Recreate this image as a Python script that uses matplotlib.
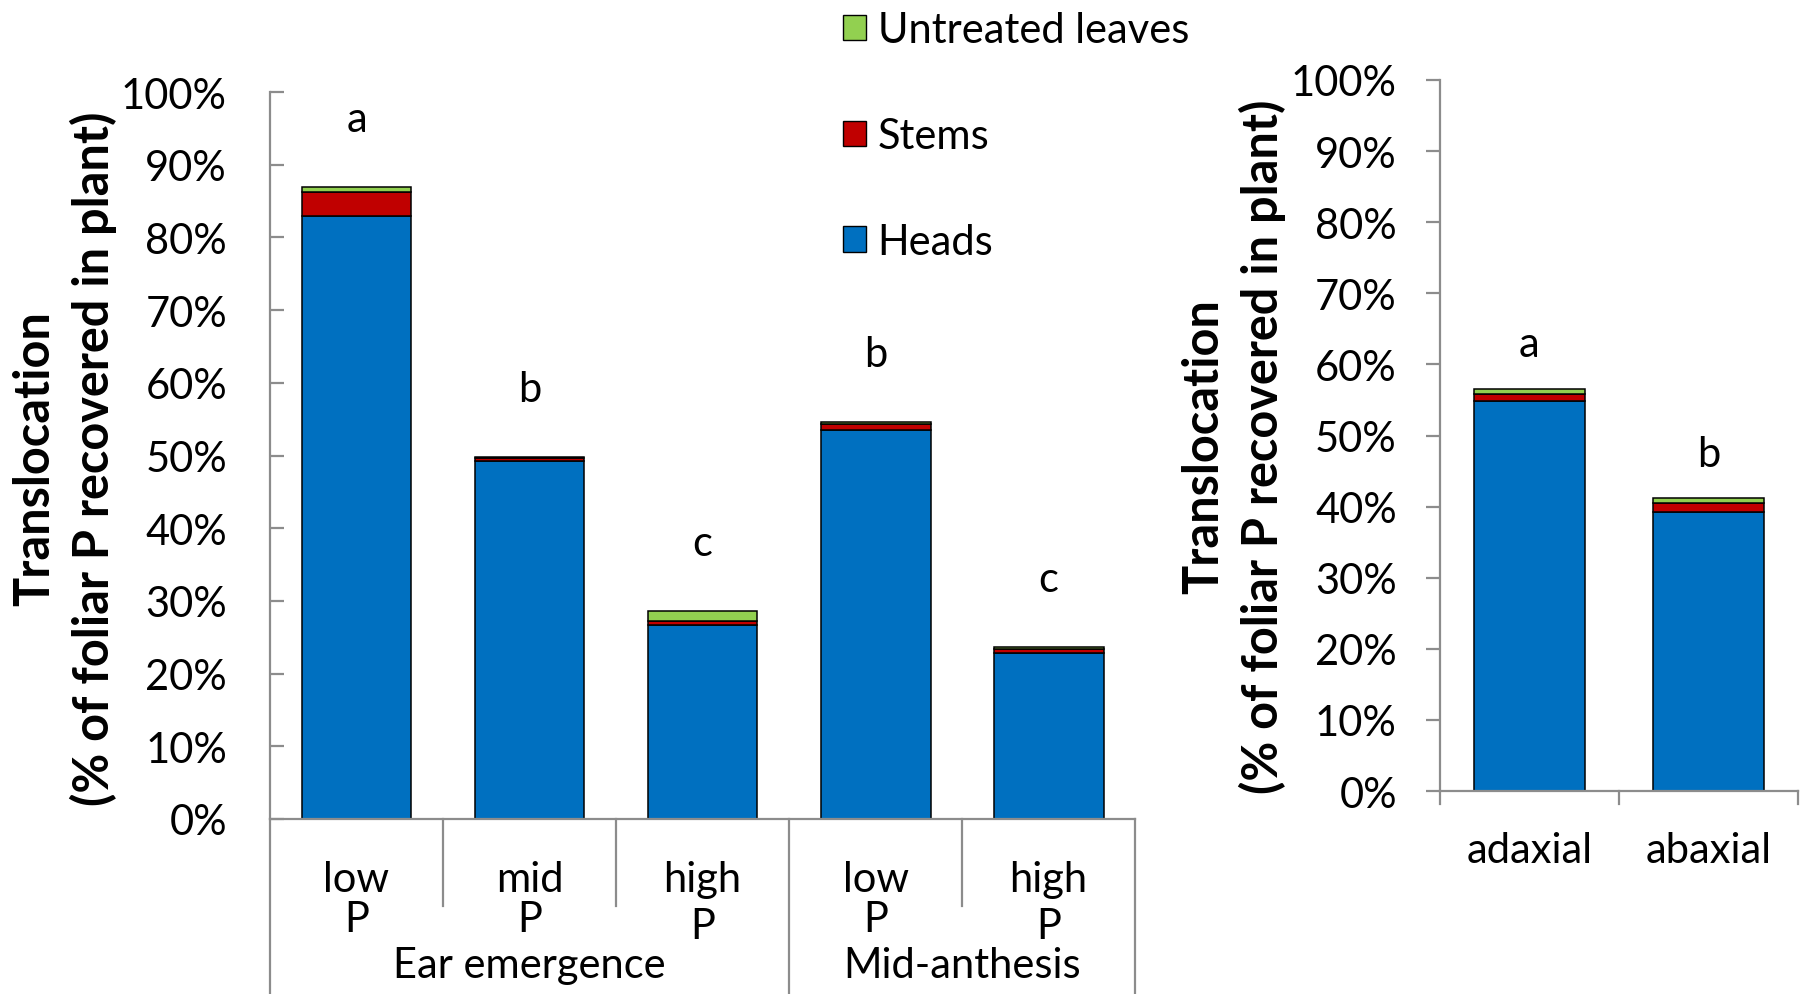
import matplotlib
matplotlib.use('Agg')
import matplotlib.pyplot as plt
from matplotlib.patches import Patch
import numpy as np

plt.rcParams['font.family'] = ['Lato', 'DejaVu Sans']

# left panel: timing x P level
cat_top = ['low', 'mid', 'high', 'low', 'high']
groups = ['Ear emergence', 'Mid-anthesis']
heads_l = [0.829, 0.492, 0.267, 0.535, 0.229]
stems_l = [0.033, 0.005, 0.005, 0.009, 0.005]
leaves_l = [0.007, 0.001, 0.014, 0.002, 0.002]
letters_l = ['a', 'b', 'c', 'b', 'c']

# right panel: leaf side
cat_r = ['adaxial', 'abaxial']
heads_r = [0.549, 0.392]
stems_r = [0.009, 0.013]
leaves_r = [0.008, 0.007]
letters_r = ['a', 'b']

c_heads = '#0070C0'
c_stems = '#C00000'
c_leaves = '#92D050'
gray = '#8c8c8c'
fs = 30
fsb = 35

fig = plt.figure(figsize=(18.04, 9.95), dpi=100)
axl = fig.add_axes([0.1497, 0.1759, 0.4795, 0.7306])
axr = fig.add_axes([0.7982, 0.2040, 0.1985, 0.7146])


def stack(ax, heads, stems, leaves, width):
    x = np.arange(len(heads))
    h = np.array(heads); s = np.array(stems); l = np.array(leaves)
    kw = dict(width=width, edgecolor='black', linewidth=1.1)
    ax.bar(x, h, color=c_heads, **kw)
    ax.bar(x, s, bottom=h, color=c_stems, **kw)
    ax.bar(x, l, bottom=h + s, color=c_leaves, **kw)
    return x, h + s + l


def style(ax, tickdir, ticklen):
    ax.set_ylim(0, 1)
    ax.set_yticks(np.arange(0, 1.01, 0.1))
    ax.set_yticklabels([f'{int(round(v*100))}%' for v in np.arange(0, 1.01, 0.1)])
    for sp in ['top', 'right']:
        ax.spines[sp].set_visible(False)
    for sp in ['left', 'bottom']:
        ax.spines[sp].set_color(gray)
        ax.spines[sp].set_linewidth(1.6)
    ax.tick_params(axis='y', direction=tickdir, length=ticklen, width=1.6,
                   color=gray, labelsize=fs)
    ax.set_xticks([])


# left chart
xl, tot_l = stack(axl, heads_l, stems_l, leaves_l, 0.635)
axl.set_xlim(-0.5, len(xl) - 0.5)
style(axl, 'in', 10)
axl.tick_params(axis='y', pad=31)
tr = axl.get_xaxis_transform()
for i, t in enumerate(cat_top):
    axl.text(i, -0.0825, t, transform=tr, ha='center', va='center', fontsize=fs)
    off = -0.147 if t == 'high' else -0.1376
    axl.text(i, off, 'P', transform=tr, ha='center', va='center', fontsize=fs)
axl.text(1, -0.2008, groups[0], transform=tr, ha='center', va='center', fontsize=fs)
axl.text(3.5, -0.2008, groups[1], transform=tr, ha='center', va='center', fontsize=fs)
for xs, yb in [(0.5, -0.12), (1.5, -0.12), (3.5, -0.12), (-0.5, -0.25), (2.5, -0.25), (4.5, -0.25)]:
    axl.plot([xs, xs], [0, yb], color=gray, lw=1.6, transform=tr, clip_on=False)
for i, (lt, t) in enumerate(zip(letters_l, tot_l)):
    axl.annotate(lt, (i, t), xytext=(0, 49), textcoords='offset points',
                 ha='center', va='center', fontsize=fs)

# right chart
xr, tot_r = stack(axr, heads_r, stems_r, leaves_r, 0.62)
axr.set_xlim(-0.5, len(xr) - 0.5)
style(axr, 'out', 10)
axr.tick_params(axis='y', pad=21)
trr = axr.get_xaxis_transform()
for i, t in enumerate(cat_r):
    axr.text(i, -0.083, t, transform=trr, ha='center', va='center', fontsize=fs)
for xs in [-0.5, 0.5, 1.5]:
    axr.plot([xs, xs], [0, -0.018], color=gray, lw=1.6, transform=trr, clip_on=False)
for i, (lt, t) in enumerate(zip(letters_r, tot_r)):
    axr.annotate(lt, (i, t), xytext=(0, 32), textcoords='offset points',
                 ha='center', va='center', fontsize=fs)

# y labels
for x1, x2, yc in [(0.0191, 0.0516, 0.539), (0.6671, 0.6996, 0.551)]:
    fig.text(x1, yc, 'Translocation', rotation=90, ha='center', va='center',
             fontsize=fsb, fontweight='bold')
    fig.text(x2, yc, '(% of foliar P recovered in plant)', rotation=90, ha='center',
             va='center', fontsize=fsb, fontweight='bold')

handles = [Patch(facecolor=c_leaves, edgecolor='black', label='Untreated leaves'),
           Patch(facecolor=c_stems, edgecolor='black', label='Stems'),
           Patch(facecolor=c_heads, edgecolor='black', label='Heads')]
fig.legend(handles=handles, loc='upper left', bbox_to_anchor=(0.456, 1.009),
           frameon=False, fontsize=fs, handlelength=0.55, handleheight=0.55,
           handletextpad=0.27, labelspacing=1.63, borderpad=0)

fig.savefig('out.png', dpi=100)
